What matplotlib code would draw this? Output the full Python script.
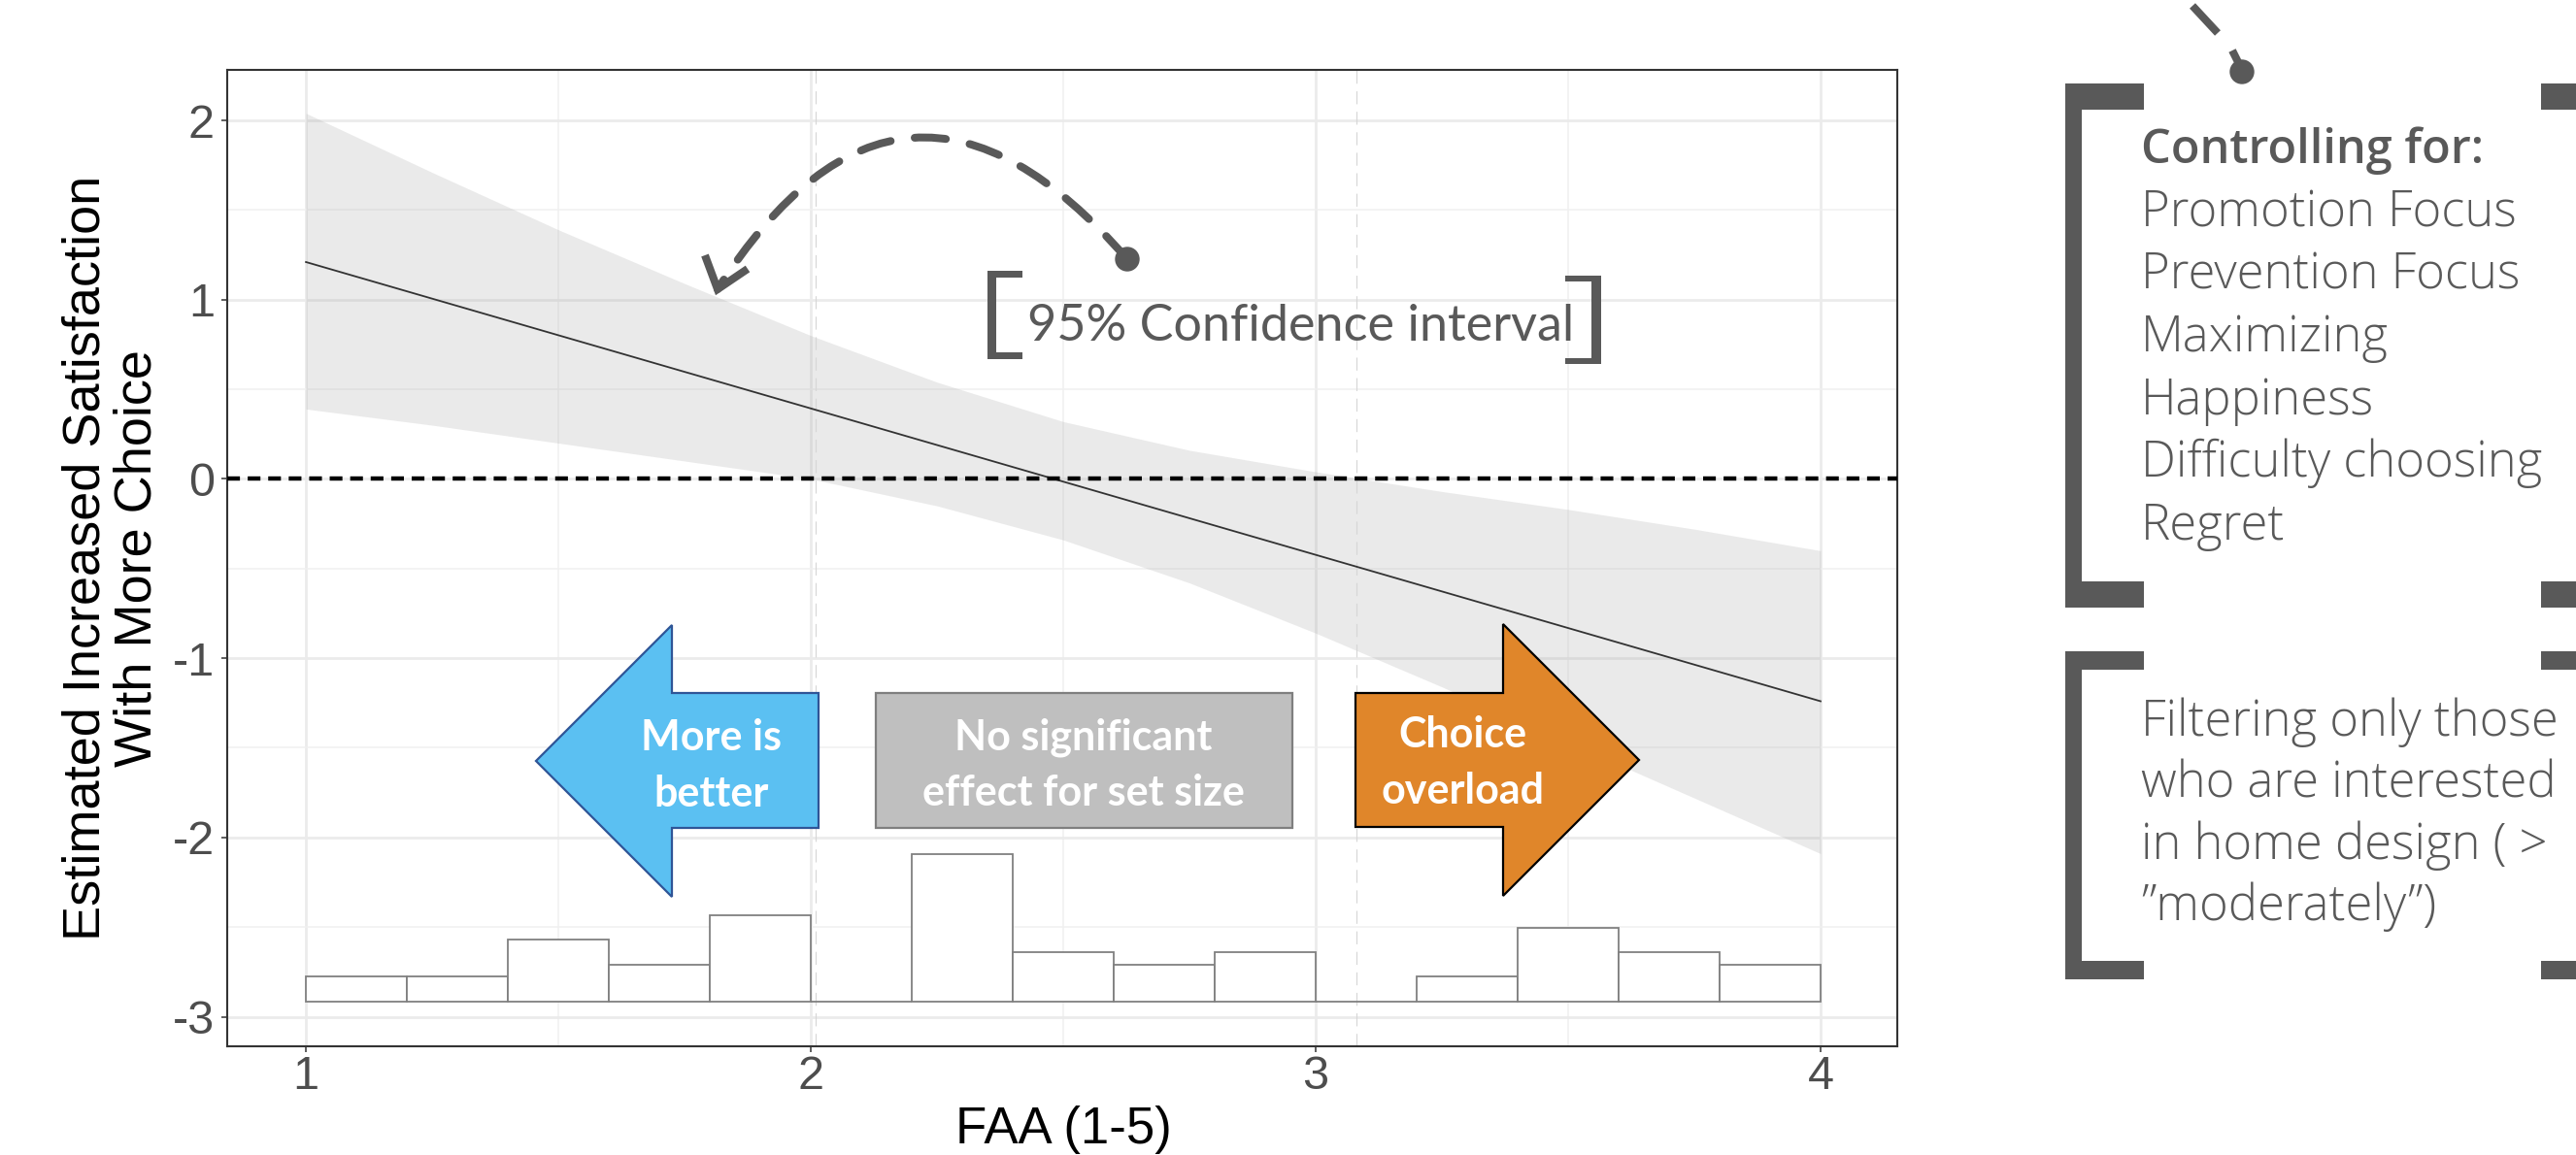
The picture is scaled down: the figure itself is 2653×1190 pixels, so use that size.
import numpy as np
import matplotlib
matplotlib.use("Agg")
import matplotlib.pyplot as plt
from matplotlib.patches import Polygon, Rectangle, FancyArrowPatch, Circle
from matplotlib.lines import Line2D
from matplotlib.transforms import Affine2D

plt.rcParams['axes.unicode_minus'] = False

W, H = 2653, 1190

# fitted slope and its 95% band
fit_x = [1.0, 4.0]
fit_y = [1.21, -1.24]
band_x = [1.0, 1.25, 1.5, 1.75, 2.0, 2.25, 2.5, 2.75, 3.0, 3.25, 3.5, 3.75, 4.0]
band_hi = [2.04, 1.71, 1.39, 1.09, 0.80, 0.54, 0.32, 0.16, 0.04, -0.07, -0.17, -0.28, -0.40]
band_lo = [0.39, 0.30, 0.20, 0.10, 0.00, -0.15, -0.34, -0.58, -0.86, -1.16, -1.47, -1.78, -2.09]

# marginal histogram of FAA (bin width 0.2)
bin_left = [1.0, 1.2, 1.4, 1.6, 1.8, 2.0, 2.2, 2.4, 2.6, 2.8, 3.0, 3.2, 3.4, 3.6, 3.8]
bin_count = [2, 2, 5, 3, 7, 0, 12, 4, 3, 4, 0, 2, 6, 4, 3]
hist_base = -2.915
hist_unit = 0.0686

# Johnson-Neyman boundaries
jn_bounds = [2.01, 3.08]

xticks = [1, 2, 3, 4]
yticks = [-3, -2, -1, 0, 1, 2]

controls = ["Promotion Focus", "Prevention Focus", "Maximizing", "Happiness",
            "Difficulty choosing", "Regret"]
filter_lines = ["Filtering only those", "who are interested",
                "in home design ( >", "\u201dmoderately\u201d)"]

GREY = '#595959'

fig = plt.figure(figsize=(W / 100, H / 100), dpi=100)
# pixel coords measured from the top-left corner
px = Affine2D().scale(1.0 / W, -1.0 / H).translate(0, 1) + fig.transFigure

ax = fig.add_axes([234 / W, 1 - 1078 / H, (1954 - 234) / W, (1078 - 72) / H])
ax.set_xlim(0.844, 4.152)
ax.set_ylim(-3.165, 2.282)
ax.set_xticks(xticks)
ax.set_yticks(yticks)
ax.set_xticks([1.5, 2.5, 3.5], minor=True)
ax.set_yticks([-2.5, -1.5, -0.5, 0.5, 1.5], minor=True)
ax.set_xticklabels([str(v) for v in xticks], fontfamily='Liberation Sans')
ax.set_yticklabels([str(v) for v in yticks], fontfamily='Liberation Sans')
ax.set_axisbelow(True)
ax.grid(which='major', color='#EBEBEB', lw=2.0)
ax.grid(which='minor', color='#F0F0F0', lw=1.1)
ax.tick_params(which='major', length=4.3, width=1.1, color='#333333',
               labelsize=35, labelcolor='#4D4D4D')
ax.tick_params(axis='x', pad=2.5)
ax.tick_params(axis='y', pad=5)
ax.tick_params(which='minor', length=0)
for s in ax.spines.values():
    s.set_color('#333333')
    s.set_linewidth(1.5)

ax.fill_between(band_x, band_lo, band_hi, color='#999999', alpha=0.2, lw=0, zorder=1)
ax.plot(fit_x, fit_y, color='#333333', lw=1.3, zorder=3)
for xb in jn_bounds:
    ax.axvline(xb, color='#D6D6D6', lw=0.8, dashes=(12, 7), zorder=1.5)
ax.axhline(0, color='black', lw=3.2, dashes=(2.95, 1.8), zorder=4)
ax.bar(bin_left, np.array(bin_count) * hist_unit, width=0.2, bottom=hist_base,
       align='edge', facecolor='white', edgecolor='#808080', lw=1.3, zorder=2)

# axis titles
fig.text(115, 575, "Estimated Increased Satisfaction\nWith More Choice", transform=px,
         rotation=90, ha='center', va='center', fontsize=39, linespacing=1.1,
         fontfamily='Liberation Sans', color='black')
fig.text(1095, 1178, "FAA (1-5)", transform=px, ha='center', va='baseline',
         fontsize=38, fontfamily='Liberation Sans', color='black')

# effect arrows
blue = Polygon([(552, 784), (692, 644), (692, 714), (843, 714), (843, 853), (692, 853),
                (692, 924)], closed=True, transform=px, facecolor='#5BC0F2',
               edgecolor='#2F5597', lw=1.6)
fig.add_artist(blue)
grey_box = Rectangle((902, 853), 429, -139, transform=px, facecolor='#BFBFBF',
                     edgecolor='#7F7F7F', lw=1.6)
fig.add_artist(grey_box)
orange = Polygon([(1396, 714), (1548, 714), (1548, 643), (1688, 783), (1548, 923),
                  (1548, 852), (1396, 852)], closed=True, transform=px,
                 facecolor='#E0862A', edgecolor='black', lw=1.6)
fig.add_artist(orange)

box_font = dict(transform=px, ha='center', va='baseline', fontsize=31,
                fontfamily='Lato', fontweight='bold', color='white')
fig.text(733, 773, "More is", **box_font)
fig.text(733, 831, "better", **box_font)
fig.text(1116, 772, "No significant", **box_font)
fig.text(1116, 830, "effect for set size", **box_font)
fig.text(1506, 770, "Choice", **box_font)
fig.text(1506, 828, "overload", **box_font)

# confidence interval callout
arc = FancyArrowPatch((1161, 267), (739, 298), transform=px, arrowstyle='-',
                      connectionstyle='arc3,rad=0.666', color=GREY, lw=5.8,
                      linestyle=(0, (4, 3.1)), shrinkA=0, shrinkB=0)
fig.add_artist(arc)
fig.add_artist(Line2D([726, 739, 770], [263, 298, 277], transform=px, color=GREY,
                      lw=5.8, solid_capstyle='butt', solid_joinstyle='miter'))
fig.add_artist(Circle((1161, 267), 12, transform=px, color=GREY))
fig.text(1058, 351, "95% Confidence interval", transform=px, ha='left', va='baseline',
         fontsize=37.5, fontfamily='Lato', fontweight='normal', color=GREY)
fig.add_artist(Polygon([(1053, 279), (1017, 279), (1017, 370), (1053, 370), (1053, 363),
                        (1026, 363), (1026, 286), (1053, 286)], transform=px,
                       facecolor=GREY, lw=0))
fig.add_artist(Polygon([(1612, 284), (1649, 284), (1649, 375), (1612, 375), (1612, 369),
                        (1639, 369), (1639, 290), (1612, 290)], transform=px,
                       facecolor=GREY, lw=0))

# right-hand notes
fig.add_artist(Line2D([2258, 2284], [6, 34], transform=px, color=GREY, lw=5.8,
                      solid_capstyle='butt'))
fig.add_artist(Line2D([2299, 2309], [52, 72], transform=px, color=GREY, lw=5.8,
                      solid_capstyle='butt'))
fig.add_artist(Circle((2309, 74), 12, transform=px, color=GREY))


def bracket(top, bottom, arm):
    fig.add_artist(Rectangle((2127, bottom), 17, top - bottom, transform=px,
                             facecolor=GREY, lw=0))
    for y0 in (top, bottom - arm):
        fig.add_artist(Rectangle((2127, y0 + arm), 81, -arm, transform=px,
                                 facecolor=GREY, lw=0))
        fig.add_artist(Rectangle((2617, y0 + arm), 40, -arm, transform=px,
                                 facecolor=GREY, lw=0))


bracket(86, 626, 27)
bracket(671, 1009, 19)

fig.text(2205, 168, "Controlling for:", transform=px, ha='left', va='baseline',
         fontsize=35, fontfamily='Open Sans', fontweight='semibold', color=GREY)
for i, item in enumerate(controls):
    fig.text(2205, 233.5 + 64.4 * i, item, transform=px, ha='left', va='baseline',
             fontsize=36.5, fontfamily='Open Sans', fontweight='light', color=GREY)
for i, item in enumerate(filter_lines):
    fig.text(2205, 758.5 + 63.3 * i, item, transform=px, ha='left', va='baseline',
             fontsize=36.5, fontfamily='Open Sans', fontweight='light', color=GREY)

fig.savefig('out.png', dpi=100)
